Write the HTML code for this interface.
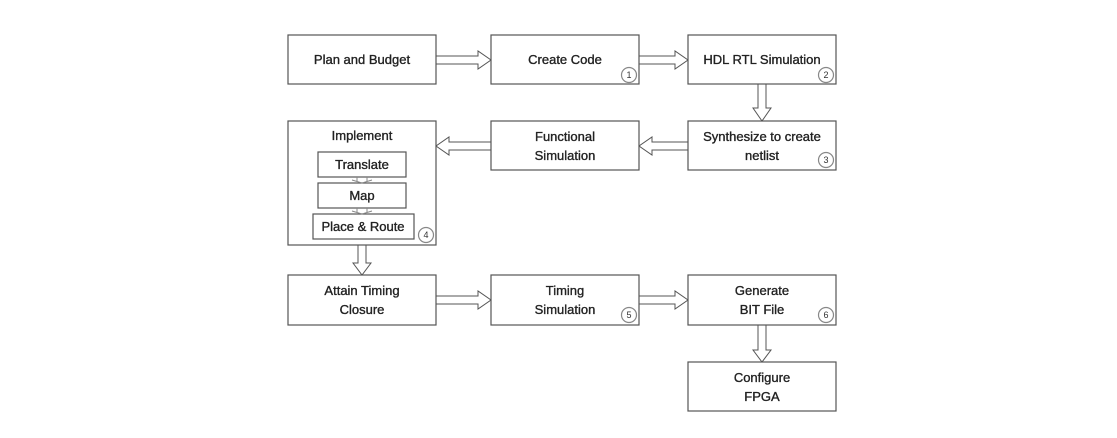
<!DOCTYPE html>
<html><head><style>
html,body{margin:0;padding:0;background:#fff;}
svg{display:block;}
text{font-family:"Liberation Sans",sans-serif;font-size:13px;fill:#222;text-anchor:middle;stroke:#222;stroke-width:0.35;}
.b{fill:#fff;stroke:#555;stroke-width:1.2;}
.a{fill:#fff;stroke:#555;stroke-width:1;}
.c{fill:#fff;stroke:#888;stroke-width:1.2;}
.n{font-size:9px;fill:#333;stroke-width:0;}
</style></head><body>
<svg width="1117" height="438" viewBox="0 0 1117 438">
<polygon class="a" points="436,56 478,56 478,51 491,60 478,69 478,64 436,64"/>
<polygon class="a" points="639,56 675,56 675,51 688,60 675,69 675,64 639,64"/>
<polygon class="a" points="758,84 758,108 753,108 762,121 771,108 766,108 766,84"/>
<polygon class="a" points="688,142 652,142 652,137 639,146 652,155 652,150 688,150"/>
<polygon class="a" points="491,142 449,142 449,137 436,146 449,155 449,150 491,150"/>
<polygon class="a" points="358,245 358,263 353,263 362,275 371,263 366,263 366,245"/>
<polygon class="a" points="436,296 478,296 478,291 491,300 478,309 478,304 436,304"/>
<polygon class="a" points="639,296 675,296 675,291 688,300 675,309 675,304 639,304"/>
<polygon class="a" points="758,325 758,350 753,350 762,362 771,350 766,350 766,325"/>
<rect class="b" x="288" y="35" width="148" height="49"/>
<rect class="b" x="491" y="35" width="148" height="49"/>
<rect class="b" x="688" y="35" width="148" height="49"/>
<rect class="b" x="288" y="121" width="148" height="124"/>
<rect class="b" x="491" y="121" width="148" height="49"/>
<rect class="b" x="688" y="121" width="148" height="49"/>
<rect class="b" x="288" y="275" width="148" height="50"/>
<rect class="b" x="491" y="275" width="148" height="50"/>
<rect class="b" x="688" y="275" width="148" height="50"/>
<rect class="b" x="688" y="362" width="148" height="49"/>
<rect class="b" x="318" y="152" width="88" height="25"/>
<rect class="b" x="318" y="183" width="88" height="25"/>
<rect class="b" x="313" y="214" width="101" height="25"/>
<path d="M357,177 v4 M367,177 v4 M352,180 l10,3 l10,-3 M357,208 v4 M367,208 v4 M352,211 l10,3 l10,-3" stroke="#888" fill="none" stroke-width="1"/>
<text x="362" y="64">Plan and Budget</text>
<text x="565" y="64">Create Code</text>
<text x="762" y="64">HDL RTL Simulation</text>
<text x="362" y="140">Implement</text>
<text x="362" y="169">Translate</text>
<text x="362" y="200">Map</text>
<text x="363" y="231">Place &amp; Route</text>
<text x="565" y="141">Functional</text>
<text x="565" y="160">Simulation</text>
<text x="762" y="141">Synthesize to create</text>
<text x="762" y="160">netlist</text>
<text x="362" y="295">Attain Timing</text>
<text x="362" y="314">Closure</text>
<text x="565" y="295">Timing</text>
<text x="565" y="314">Simulation</text>
<text x="762" y="295">Generate</text>
<text x="762" y="314">BIT File</text>
<text x="762" y="382">Configure</text>
<text x="762" y="401">FPGA</text>
<circle class="c" cx="629" cy="75" r="7.5"/><text class="n" x="629" y="78">1</text>
<circle class="c" cx="826" cy="75" r="7.5"/><text class="n" x="826" y="78">2</text>
<circle class="c" cx="826" cy="160" r="7.5"/><text class="n" x="826" y="163">3</text>
<circle class="c" cx="426" cy="235" r="7.5"/><text class="n" x="426" y="238">4</text>
<circle class="c" cx="629" cy="315" r="7.5"/><text class="n" x="629" y="318">5</text>
<circle class="c" cx="826" cy="315" r="7.5"/><text class="n" x="826" y="318">6</text>
</svg>
</body></html>
